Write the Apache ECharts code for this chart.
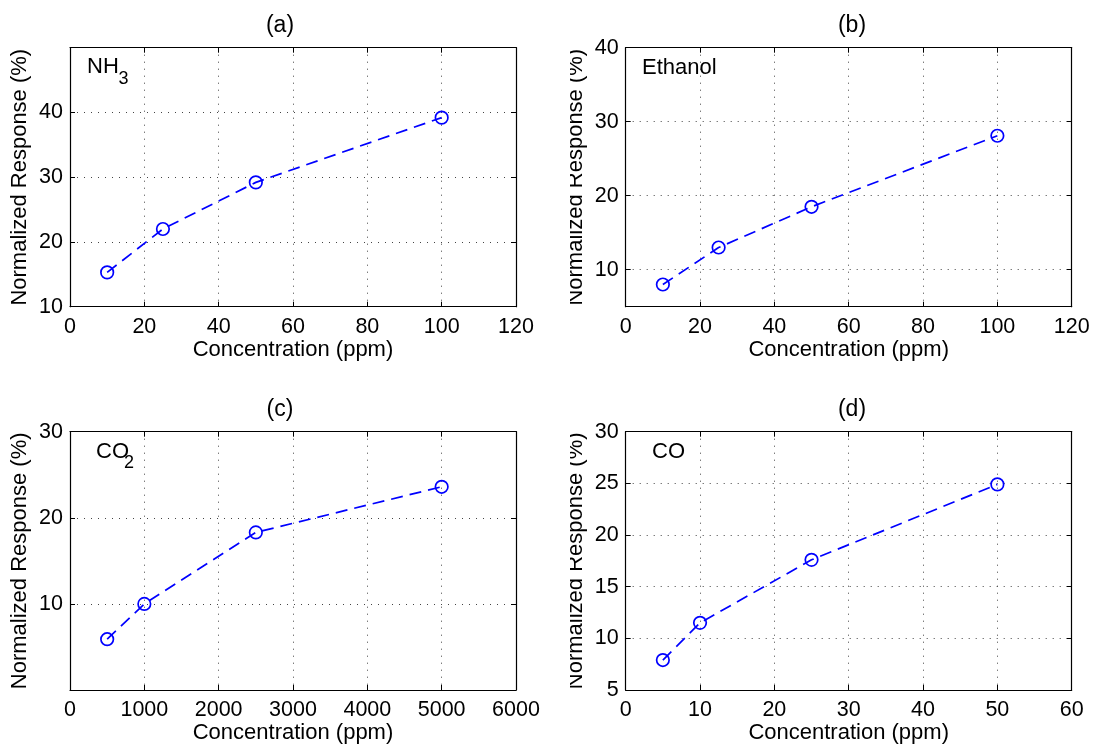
<!DOCTYPE html>
<html>
<head>
<meta charset="utf-8">
<script src="https://cdn.jsdelivr.net/npm/echarts@6/dist/echarts.min.js"></script>
<style>
html,body{margin:0;padding:0;background:#fff;}
#chart{width:1094px;height:746px;}
</style>
</head>
<body>
<div id="chart"></div>
<script>
// ---- data ----
const panelTitles = ['(a)', '(b)', '(c)', '(d)'];
const gasLabels = ['NH', 'Ethanol', 'CO', 'CO'];
const gasSubs = ['3', '', '2', ''];
const xName = 'Concentration (ppm)';
const yName = 'Normalized Response (%)';

const nh3X = [10, 25, 50, 100];
const nh3Y = [15.3, 22.0, 29.2, 39.2];
const ethanolX = [10, 25, 50, 100];
const ethanolY = [8.0, 13.0, 18.5, 28.1];
const co2X = [500, 1000, 2500, 5000];
const co2Y = [5.9, 10.0, 18.3, 23.6];
const coX = [5, 10, 25, 50];
const coY = [7.9, 11.5, 17.6, 24.9];

const xTicksA = [0, 20, 40, 60, 80, 100, 120];
const xTicksB = [0, 20, 40, 60, 80, 100, 120];
const xTicksC = [0, 1000, 2000, 3000, 4000, 5000, 6000];
const xTicksD = [0, 10, 20, 30, 40, 50, 60];
const yTicksA = [10, 20, 30, 40];
const yTicksB = [10, 20, 30, 40];
const yTicksC = [10, 20, 30];
const yTicksD = [5, 10, 15, 20, 25, 30];
const xRanges = [[0, 120], [0, 120], [0, 6000], [0, 60]];
const yRanges = [[10, 50], [5, 40], [0, 30], [5, 30]];

// ---- layout / style ----
const FONT = 'Liberation Sans, Arial, Helvetica, sans-serif';
const BLUE = '#0000ff';
const grids = [
  {left: 70, top: 47.7, width: 446, height: 259},
  {left: 625.7, top: 47.7, width: 446, height: 259},
  {left: 70, top: 431.7, width: 446, height: 258.3},
  {left: 625.7, top: 431.7, width: 446, height: 258.3}
];
const xs = [nh3X, ethanolX, co2X, coX];
const ys = [nh3Y, ethanolY, co2Y, coY];
const xTicks = [xTicksA, xTicksB, xTicksC, xTicksD];
const yTicks = [yTicksA, yTicksB, yTicksC, yTicksD];

const gridLine = {show: true, lineStyle: {color: '#444', width: 1, type: [1, 6]}};
const axisLine = {show: true, onZero: false, lineStyle: {color: '#000', width: 1.2}};
const labelStyle = {color: '#000', fontSize: 21.5, fontFamily: FONT, formatter: v => String(v)};

const xAxes = [], yAxes = [], series = [], graphic = [];
for (let i = 0; i < 4; i++) {
  const common = {type: 'value', gridIndex: i};
  xAxes.push(Object.assign({}, common, {
    position: 'bottom', min: xRanges[i][0], max: xRanges[i][1],
    axisLine: axisLine,
    axisTick: {show: true, inside: true, length: 5, customValues: xTicks[i], lineStyle: {color: '#000'}},
    axisLabel: {show: true, margin: 9, customValues: xTicks[i], ...labelStyle},
    splitLine: gridLine,
    name: xName, nameLocation: 'middle', nameGap: 32,
    nameTextStyle: {color: '#000', fontSize: 22, fontFamily: FONT}
  }));
  xAxes.push(Object.assign({}, common, {
    position: 'top', min: xRanges[i][0], max: xRanges[i][1],
    axisLine: axisLine,
    axisTick: {show: true, inside: true, length: 5, customValues: xTicks[i], lineStyle: {color: '#000'}},
    axisLabel: {show: false}, splitLine: {show: false}
  }));
  yAxes.push(Object.assign({}, common, {
    position: 'left', min: yRanges[i][0], max: yRanges[i][1],
    axisLine: axisLine,
    axisTick: {show: true, inside: true, length: 5, customValues: yTicks[i], lineStyle: {color: '#000'}},
    axisLabel: {show: true, margin: 7, customValues: yTicks[i], ...labelStyle},
    splitLine: gridLine,
    name: yName, nameLocation: 'middle', nameGap: 39, nameRotate: 90,
    nameTextStyle: {color: '#000', fontSize: 22, fontFamily: FONT}
  }));
  yAxes.push(Object.assign({}, common, {
    position: 'right', min: yRanges[i][0], max: yRanges[i][1],
    axisLine: axisLine,
    axisTick: {show: true, inside: true, length: 5, customValues: yTicks[i], lineStyle: {color: '#000'}},
    axisLabel: {show: false}, splitLine: {show: false}
  }));
  series.push({
    type: 'line', xAxisIndex: 2 * i, yAxisIndex: 2 * i,
    data: xs[i].map((x, k) => [x, ys[i][k]]),
    symbol: 'circle', symbolSize: 12.5,
    itemStyle: {color: 'rgba(0,0,0,0)', borderColor: BLUE, borderWidth: 1.7},
    lineStyle: {color: BLUE, width: 1.7, type: [12, 7]},
    emphasis: {disabled: true}, silent: true, z: 5
  });
  // panel title
  const g = grids[i];
  graphic.push({
    type: 'text', x: (i % 2 === 0) ? 280 : 852, y: g.top - 22, z: 10,
    style: {text: panelTitles[i], fill: '#000', fontSize: 23, fontFamily: FONT, align: 'center', verticalAlign: 'middle'}
  });
}

// gas annotations (main text + subscript)
const annX = [87, 642, 96, 652];
const annY = [67, 68, 451.5, 451.5];
const subX = [118.5, 0, 124, 0];
for (let i = 0; i < 4; i++) {
  graphic.push({
    type: 'text', x: annX[i], y: annY[i], z: 10,
    style: {text: gasLabels[i], fill: '#000', fontSize: 22, fontFamily: FONT, align: 'left', verticalAlign: 'middle'}
  });
  if (gasSubs[i]) {
    graphic.push({
      type: 'text', x: subX[i], y: annY[i] + 12, z: 10,
      style: {text: gasSubs[i], fill: '#000', fontSize: 18, fontFamily: FONT, align: 'left', verticalAlign: 'middle'}
    });
  }
}
// clipping strips covering the left part of the right-column y-axis titles (as in the reference)
graphic.push({type: 'rect', shape: {x: 545, y: 40, width: 25, height: 275}, style: {fill: '#fff'}, z: 100, silent: true});
graphic.push({type: 'rect', shape: {x: 545, y: 424, width: 25, height: 275}, style: {fill: '#fff'}, z: 100, silent: true});

const chart = echarts.init(document.getElementById('chart'), null, {renderer: 'canvas'});
chart.setOption({
  animation: false,
  backgroundColor: '#fff',
  grid: grids.map(g => Object.assign({containLabel: false}, g)),
  xAxis: xAxes,
  yAxis: yAxes,
  series: series,
  graphic: graphic
});
</script>
</body>
</html>
